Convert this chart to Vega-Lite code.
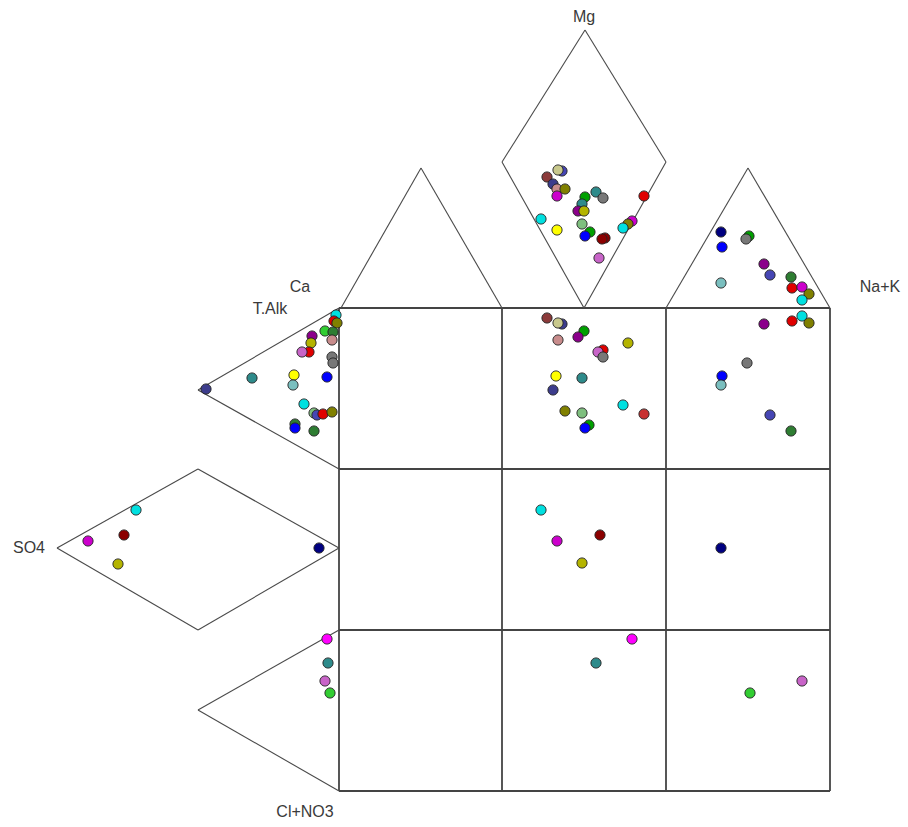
{
  "$schema": "https://vega.github.io/schema/vega-lite/v6.json",
  "width": 908,
  "height": 827,
  "autosize": {"type": "fit", "contains": "padding"},
  "padding": 0,
  "background": "white",
  "config": {"view": {"stroke": null}},
  "encoding": {},
  "layer": [
    {
      "data": {"values": [
        {"x": 339, "y": 308, "x2": 339, "y2": 791},
        {"x": 502, "y": 308, "x2": 502, "y2": 791},
        {"x": 666, "y": 308, "x2": 666, "y2": 791},
        {"x": 830, "y": 308, "x2": 830, "y2": 791},
        {"x": 339, "y": 308, "x2": 830, "y2": 308},
        {"x": 339, "y": 469, "x2": 830, "y2": 469},
        {"x": 339, "y": 630, "x2": 830, "y2": 630},
        {"x": 339, "y": 791, "x2": 830, "y2": 791}
      ]},
      "mark": {"type": "rule", "stroke": "#444444", "strokeWidth": 1.8},
      "encoding": {
        "x": {"field": "x", "type": "quantitative", "scale": {"domain": [0, 908], "nice": false, "zero": false}, "axis": null},
        "y": {"field": "y", "type": "quantitative", "scale": {"domain": [0, 827], "nice": false, "zero": false, "reverse": true}, "axis": null},
        "x2": {"field": "x2"},
        "y2": {"field": "y2"}
      }
    },
    {
      "data": {"values": [
        {"x": 341, "y": 308, "x2": 421, "y2": 168},
        {"x": 421, "y": 168, "x2": 502, "y2": 308},
        {"x": 502, "y": 162, "x2": 585, "y2": 30},
        {"x": 585, "y": 30, "x2": 666, "y2": 162},
        {"x": 666, "y": 162, "x2": 584, "y2": 308},
        {"x": 584, "y": 308, "x2": 502, "y2": 162},
        {"x": 666, "y": 308, "x2": 748, "y2": 168},
        {"x": 748, "y": 168, "x2": 830, "y2": 308},
        {"x": 339, "y": 308, "x2": 198, "y2": 390},
        {"x": 198, "y": 390, "x2": 339, "y2": 469},
        {"x": 57, "y": 548, "x2": 198, "y2": 469},
        {"x": 198, "y": 469, "x2": 339, "y2": 548},
        {"x": 339, "y": 548, "x2": 198, "y2": 630},
        {"x": 198, "y": 630, "x2": 57, "y2": 548},
        {"x": 339, "y": 630, "x2": 198, "y2": 710},
        {"x": 198, "y": 710, "x2": 339, "y2": 791}
      ]},
      "mark": {"type": "rule", "stroke": "#4a4a4a", "strokeWidth": 1.1},
      "encoding": {
        "x": {"field": "x", "type": "quantitative"},
        "y": {"field": "y", "type": "quantitative"},
        "x2": {"field": "x2"},
        "y2": {"field": "y2"}
      }
    },
    {
      "data": {"values": [
        {"x": 562, "y": 171, "c": "slate"}, {"x": 558, "y": 170, "c": "khaki"}, {"x": 547, "y": 177, "c": "brown"},
        {"x": 553, "y": 184, "c": "dslate"}, {"x": 557, "y": 189, "c": "rosy"}, {"x": 565, "y": 189, "c": "olive"},
        {"x": 557, "y": 196, "c": "magenta"}, {"x": 596, "y": 192, "c": "teal"}, {"x": 603, "y": 198, "c": "gray"},
        {"x": 585, "y": 197, "c": "green"}, {"x": 582, "y": 204, "c": "teal"}, {"x": 578, "y": 211, "c": "purple"},
        {"x": 584, "y": 211, "c": "oliveyellow"}, {"x": 541, "y": 219, "c": "cyan"}, {"x": 557, "y": 230, "c": "yellow"},
        {"x": 582, "y": 224, "c": "lightgreen"}, {"x": 590, "y": 232, "c": "green"}, {"x": 585, "y": 236, "c": "blue"},
        {"x": 605, "y": 238, "c": "darkred"}, {"x": 602, "y": 239, "c": "darkred"}, {"x": 599, "y": 258, "c": "orchid"},
        {"x": 644, "y": 196, "c": "red"}, {"x": 632, "y": 221, "c": "magenta"}, {"x": 628, "y": 224, "c": "olive"},
        {"x": 623, "y": 228, "c": "cyan"},

        {"x": 547, "y": 318, "c": "brown"}, {"x": 562, "y": 324, "c": "dslate"}, {"x": 558, "y": 323, "c": "khaki"},
        {"x": 584, "y": 331, "c": "green"}, {"x": 578, "y": 337, "c": "purple"}, {"x": 558, "y": 340, "c": "rosy"},
        {"x": 628, "y": 343, "c": "oliveyellow"}, {"x": 603, "y": 350, "c": "red"}, {"x": 598, "y": 352, "c": "orchid"},
        {"x": 603, "y": 357, "c": "gray"}, {"x": 556, "y": 376, "c": "yellow"}, {"x": 582, "y": 378, "c": "teal"},
        {"x": 553, "y": 390, "c": "dslate"}, {"x": 623, "y": 405, "c": "cyan"}, {"x": 644, "y": 414, "c": "brownred"},
        {"x": 565, "y": 411, "c": "olive"}, {"x": 582, "y": 413, "c": "lightgreen"}, {"x": 589, "y": 425, "c": "green"},
        {"x": 585, "y": 428, "c": "blue"},

        {"x": 336, "y": 315, "c": "cyan"}, {"x": 334, "y": 321, "c": "red"}, {"x": 337, "y": 323, "c": "olive"},
        {"x": 325, "y": 331, "c": "brightgreen"}, {"x": 333, "y": 332, "c": "darkgreen"}, {"x": 312, "y": 336, "c": "purple"},
        {"x": 311, "y": 343, "c": "oliveyellow"}, {"x": 332, "y": 340, "c": "rosy"}, {"x": 309, "y": 352, "c": "red"},
        {"x": 302, "y": 352, "c": "orchid"}, {"x": 332, "y": 357, "c": "gray"}, {"x": 333, "y": 363, "c": "gray"},
        {"x": 252, "y": 378, "c": "teal"}, {"x": 294, "y": 375, "c": "yellow"}, {"x": 327, "y": 377, "c": "blue"},
        {"x": 293, "y": 385, "c": "lightteal"}, {"x": 206, "y": 389, "c": "dslate"}, {"x": 304, "y": 404, "c": "cyan"},
        {"x": 314, "y": 413, "c": "lightgreen"}, {"x": 317, "y": 415, "c": "slate"}, {"x": 323, "y": 414, "c": "red"},
        {"x": 332, "y": 412, "c": "olive"}, {"x": 295, "y": 424, "c": "darkgreen"}, {"x": 295, "y": 428, "c": "blue"},
        {"x": 314, "y": 431, "c": "darkgreen"},

        {"x": 721, "y": 232, "c": "navy"}, {"x": 749, "y": 236, "c": "green"}, {"x": 746, "y": 239, "c": "gray"},
        {"x": 722, "y": 247, "c": "blue"}, {"x": 764, "y": 264, "c": "purple"}, {"x": 770, "y": 275, "c": "slate"},
        {"x": 721, "y": 283, "c": "lightteal"}, {"x": 791, "y": 277, "c": "darkgreen"}, {"x": 792, "y": 288, "c": "red"},
        {"x": 802, "y": 287, "c": "magenta"}, {"x": 809, "y": 294, "c": "olive"}, {"x": 802, "y": 300, "c": "cyan"},

        {"x": 764, "y": 324, "c": "purple"}, {"x": 802, "y": 316, "c": "cyan"}, {"x": 792, "y": 321, "c": "red"},
        {"x": 809, "y": 323, "c": "olive"}, {"x": 747, "y": 363, "c": "gray"}, {"x": 722, "y": 376, "c": "blue"},
        {"x": 721, "y": 385, "c": "lightteal"}, {"x": 770, "y": 415, "c": "slate"}, {"x": 791, "y": 431, "c": "darkgreen"},

        {"x": 136, "y": 510, "c": "cyan"}, {"x": 88, "y": 541, "c": "magenta"}, {"x": 124, "y": 535, "c": "darkred"},
        {"x": 118, "y": 564, "c": "oliveyellow"}, {"x": 319, "y": 548, "c": "navy"},

        {"x": 541, "y": 510, "c": "cyan"}, {"x": 557, "y": 541, "c": "magenta"}, {"x": 600, "y": 535, "c": "darkred"},
        {"x": 582, "y": 563, "c": "oliveyellow"}, {"x": 721, "y": 548, "c": "navy"},

        {"x": 632, "y": 639, "c": "brightmagenta"}, {"x": 596, "y": 663, "c": "teal"},
        {"x": 750, "y": 693, "c": "brightgreen"}, {"x": 802, "y": 681, "c": "orchid"},

        {"x": 327, "y": 639, "c": "brightmagenta"}, {"x": 328, "y": 663, "c": "teal"},
        {"x": 325, "y": 681, "c": "orchid"}, {"x": 330, "y": 693, "c": "brightgreen"}
      ]},
      "mark": {"type": "circle", "size": 105, "opacity": 1, "stroke": "#222222", "strokeWidth": 0.9},
      "encoding": {
        "x": {"field": "x", "type": "quantitative"},
        "y": {"field": "y", "type": "quantitative"},
        "fill": {
          "field": "c", "type": "nominal", "legend": null,
          "scale": {
            "domain": ["slate", "khaki", "brown", "dslate", "rosy", "olive", "magenta", "teal", "gray", "green", "purple", "oliveyellow", "cyan", "yellow", "lightgreen", "blue", "darkred", "orchid", "red", "brownred", "brightgreen", "darkgreen", "lightteal", "navy", "brightmagenta"],
            "range": ["#4646B4", "#C8C88C", "#8B3A3A", "#3C3C8C", "#C88C8C", "#808000", "#CC00CC", "#2E8B8B", "#787878", "#00A000", "#8B008B", "#B4B400", "#00E0E0", "#FFFF00", "#7FBF7F", "#0000FF", "#8B0000", "#C864C8", "#E00000", "#C83232", "#32CD32", "#2E7D32", "#7ABFBF", "#000080", "#FF00FF"]
          }
        }
      }
    },
    {
      "data": {"values": [
        {"x": 584, "y": 17, "t": "Mg"},
        {"x": 300, "y": 287, "t": "Ca"},
        {"x": 270, "y": 309, "t": "T.Alk"},
        {"x": 880, "y": 287, "t": "Na+K"},
        {"x": 29, "y": 548, "t": "SO4"},
        {"x": 305, "y": 812, "t": "Cl+NO3"}
      ]},
      "mark": {"type": "text", "font": "Liberation Sans", "fontSize": 16, "fill": "#3a3a3a", "align": "center", "baseline": "middle"},
      "encoding": {
        "x": {"field": "x", "type": "quantitative"},
        "y": {"field": "y", "type": "quantitative"},
        "text": {"field": "t", "type": "nominal"}
      }
    }
  ]
}
